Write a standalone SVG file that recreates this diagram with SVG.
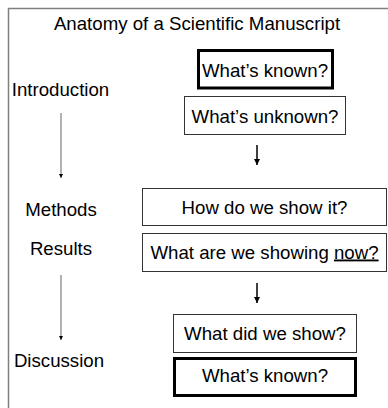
<svg xmlns="http://www.w3.org/2000/svg" width="388" height="408" viewBox="0 0 388 408">
<style>
text{font-family:"Liberation Sans",Arial,sans-serif;font-size:18.67px;fill:#000}
.c{text-anchor:middle}
.box{fill:#fff;stroke:#333;stroke-width:1}
.key{fill:#fff;stroke:#000;stroke-width:3}
.flow{stroke:#000;stroke-width:1.5;fill:none}
.side{stroke:#999;stroke-width:1.5;fill:none}
</style>
<defs>
<marker id="ah" viewBox="0 0 6 6" refX="6" refY="3" markerWidth="6" markerHeight="6" markerUnits="userSpaceOnUse" orient="auto"><path d="M0,0 L6,3 L0,6 z" fill="#000"/></marker>
<marker id="ahs" viewBox="0 0 4 4" refX="4" refY="2" markerWidth="4" markerHeight="4" markerUnits="userSpaceOnUse" orient="auto"><path d="M0,0 L4,2 L0,4 z" fill="#000"/></marker>
</defs>
<rect x="8.5" y="8.5" width="400" height="420" fill="#fff" stroke="#808080" stroke-width="1.5"/>
<text id="title" class="c" x="197" y="30">Anatomy of a Scientific Manuscript</text>
<g id="labels">
<text id="lbl-intro" class="c" x="60.5" y="96">Introduction</text>
<text id="lbl-methods" class="c" x="61" y="216">Methods</text>
<text id="lbl-results" class="c" x="61" y="255">Results</text>
<text id="lbl-discussion" class="c" x="59" y="367">Discussion</text>
</g>
<g id="connectors">
<line class="side" x1="61" y1="113" x2="61" y2="178" marker-end="url(#ahs)"/>
<line class="side" x1="61" y1="275" x2="61" y2="340" marker-end="url(#ahs)"/>
<line class="flow" x1="257" y1="145" x2="257" y2="165" marker-end="url(#ah)"/>
<line class="flow" x1="257" y1="283" x2="257" y2="303" marker-end="url(#ah)"/>
</g>
<g id="known1"><rect class="key" x="198.5" y="50.5" width="134" height="37.5"/><text class="c" x="265" y="77">What’s known?</text></g>
<g id="unknown"><rect class="box" x="184.5" y="96.5" width="161" height="38"/><text class="c" x="265" y="122.5">What’s unknown?</text></g>
<g id="how"><rect class="box" x="142.5" y="188.5" width="244" height="37"/><text class="c" x="264.5" y="214">How do we show it?</text></g>
<g id="results"><rect class="box" x="142.5" y="233.5" width="244" height="38"/><text class="c" x="264.5" y="258.5">What are we showing <tspan style="text-decoration:underline">now?</tspan></text></g>
<g id="did"><rect class="box" x="173.5" y="314.5" width="183" height="38"/><text class="c" x="265" y="340">What did we show?</text></g>
<g id="known2"><rect class="key" x="174.5" y="358.5" width="181" height="37"/><text class="c" x="265" y="382">What’s known?</text></g>
</svg>
